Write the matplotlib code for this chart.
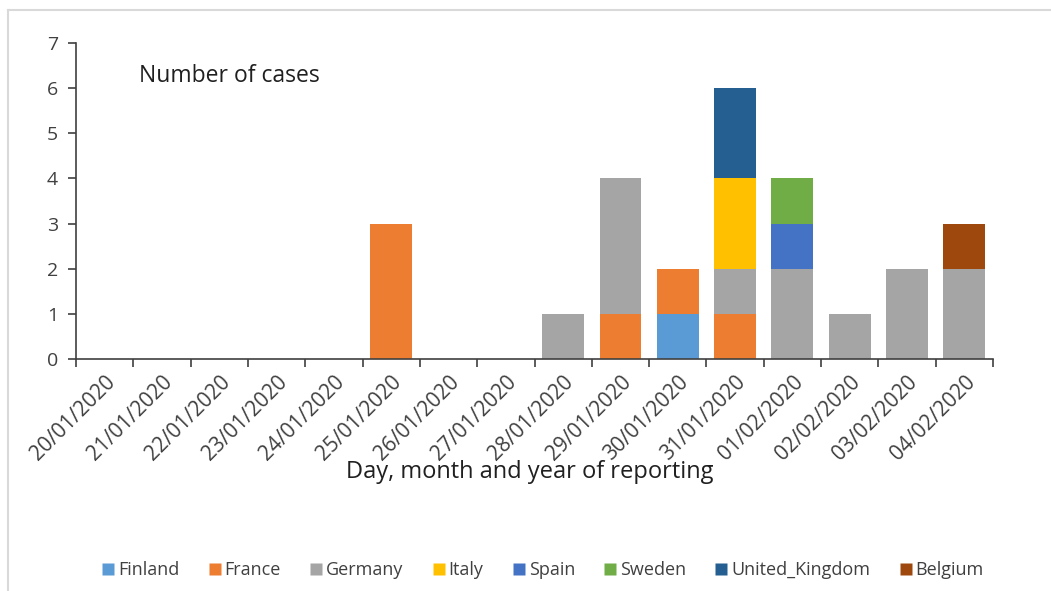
import matplotlib
matplotlib.use("Agg")
import matplotlib.pyplot as plt
import numpy as np
from matplotlib.lines import Line2D

plt.rcParams['font.family'] = ['Open Sans', 'DejaVu Sans']

dates = ["20/01/2020", "21/01/2020", "22/01/2020", "23/01/2020", "24/01/2020",
         "25/01/2020", "26/01/2020", "27/01/2020", "28/01/2020", "29/01/2020",
         "30/01/2020", "31/01/2020", "01/02/2020", "02/02/2020", "03/02/2020",
         "04/02/2020"]
countries = ["Finland", "France", "Germany", "Italy", "Spain", "Sweden",
             "United_Kingdom", "Belgium"]
finland = [0, 0, 0, 0, 0, 0, 0, 0, 0, 0, 1, 0, 0, 0, 0, 0]
france = [0, 0, 0, 0, 0, 3, 0, 0, 0, 1, 1, 1, 0, 0, 0, 0]
germany = [0, 0, 0, 0, 0, 0, 0, 0, 1, 3, 0, 1, 2, 1, 2, 2]
italy = [0, 0, 0, 0, 0, 0, 0, 0, 0, 0, 0, 2, 0, 0, 0, 0]
spain = [0, 0, 0, 0, 0, 0, 0, 0, 0, 0, 0, 0, 1, 0, 0, 0]
sweden = [0, 0, 0, 0, 0, 0, 0, 0, 0, 0, 0, 0, 1, 0, 0, 0]
united_kingdom = [0, 0, 0, 0, 0, 0, 0, 0, 0, 0, 0, 2, 0, 0, 0, 0]
belgium = [0, 0, 0, 0, 0, 0, 0, 0, 0, 0, 0, 0, 0, 0, 0, 1]
colors = ["#5B9BD5", "#ED7D31", "#A5A5A5", "#FFC000", "#4472C4", "#70AD47",
          "#255E91", "#9E480E"]

series = [finland, france, germany, italy, spain, sweden, united_kingdom, belgium]
text_color = "#404040"

fig = plt.figure(figsize=(10.51, 5.91), dpi=100)
ax = fig.add_axes([76 / 1051, 1 - 359 / 591, (993 - 76) / 1051, (359 - 43) / 591])

x = np.arange(len(dates))
bottom = np.zeros(len(dates))
handles = []
for name, vals, c in zip(countries, series, colors):
    v = np.array(vals, dtype=float)
    ax.bar(x, v, width=0.73, bottom=bottom, color=c, edgecolor='none', label=name)
    bottom += v
    handles.append(Line2D([0], [0], marker='s', linestyle='none', markersize=9,
                          markerfacecolor=c, markeredgecolor='none', label=name))

ax.set_xlim(-0.5, len(dates) - 0.5)
ax.set_ylim(0, 7)
ax.set_yticks(range(0, 8))
ax.spines['top'].set_visible(False)
ax.spines['right'].set_visible(False)
for s in ['left', 'bottom']:
    ax.spines[s].set_color('#404040')
    ax.spines[s].set_linewidth(1.2)

ax.set_xticks(x)
ax.set_xticklabels(dates, rotation=45, ha='right', va='top', rotation_mode='anchor',
                   fontsize=15, color=text_color)
ax.tick_params(axis='x', which='major', length=0, pad=9)
ax.set_xticks(np.arange(-0.5, len(dates)), minor=True)
ax.tick_params(axis='x', which='minor', length=6, width=1.2, color='#404040', direction='out')
ax.tick_params(axis='y', length=6, width=1.2, color='#404040', direction='out',
               labelsize=14, labelcolor=text_color, pad=7)

fig.text(139 / 1051, 1 - 76 / 591, "Number of cases", fontsize=16.5, color='#202020',
         ha='left', va='center')
fig.text(530 / 1051, 1 - 472 / 591, "Day, month and year of reporting", fontsize=17,
         color='#202020', ha='center', va='center')

fig.legend(handles=handles, loc='center', bbox_to_anchor=(541 / 1051, 1 - 570 / 591),
           ncol=8, frameon=False, fontsize=13, handletextpad=0.0, columnspacing=1.4,
           labelcolor=text_color, handlelength=1.1)

# outer border (top and left visible)
fig.add_artist(Line2D([8 / 1051, 1.0], [1 - 10 / 591, 1 - 10 / 591], color='#d9d9d9', lw=1.5,
                      transform=fig.transFigure))
fig.add_artist(Line2D([8 / 1051, 8 / 1051], [0.0, 1 - 10 / 591], color='#d9d9d9', lw=1.5,
                      transform=fig.transFigure))

fig.savefig("out.png", dpi=100)
